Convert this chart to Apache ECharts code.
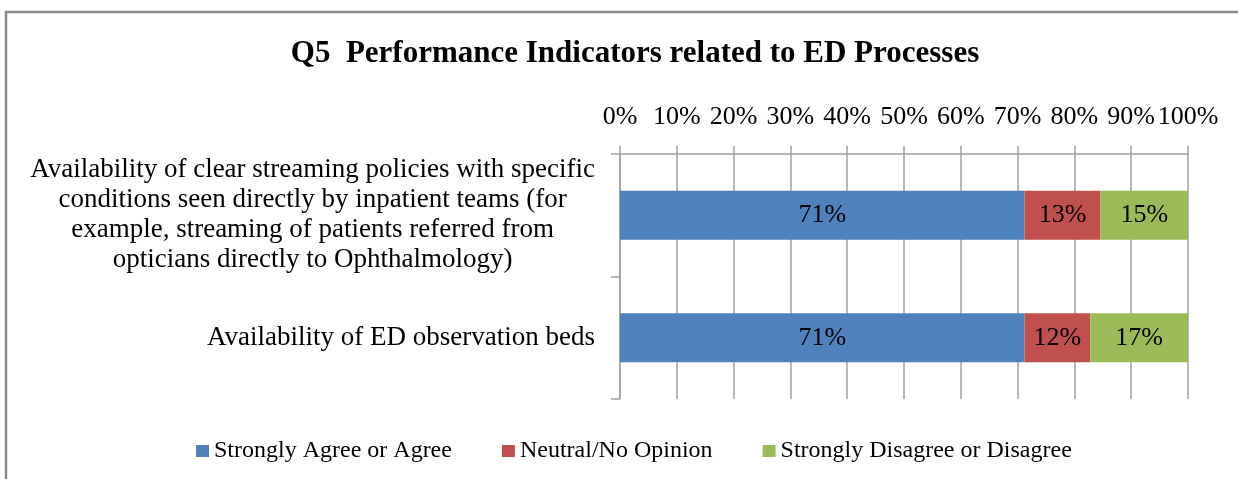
<!DOCTYPE html>
<html>
<head>
<meta charset="utf-8">
<script src="https://cdn.jsdelivr.net/npm/echarts@6/dist/echarts.min.js"></script>
<style>
    html, body { margin: 0; padding: 0; background: #fff; }
    #chart { width: 1238px; height: 479px; }
</style>
</head>
<body>
<div id="chart"></div>
<script>
    var categories = [
        'Availability of clear streaming policies with specific\nconditions seen directly by inpatient teams (for\nexample, streaming of patients referred from\nopticians directly to Ophthalmology)',
        'Availability of ED observation beds'
    ];
    var seriesNames = ['Strongly Agree or Agree', 'Neutral/No Opinion', 'Strongly Disagree or Disagree'];
    var agree = [71.2, 71.2];
    var neutral = [13.4, 11.6];
    var disagree = [15.4, 17.2];
    var colors = ['#4F81BD', '#C0504D', '#9BBB59'];

    var font = "'Liberation Serif', 'Times New Roman', serif";
    var chart = echarts.init(document.getElementById('chart'));

    function barSeries(name, data, color) {
        return {
            name: name,
            type: 'bar',
            stack: 'total',
            barWidth: 49,
            data: data,
            itemStyle: { color: color },
            label: {
                show: true,
                position: 'inside',
                color: '#000',
                fontFamily: font,
                fontSize: 26,
                formatter: function (p) { return Math.round(p.value) + '%'; }
            }
        };
    }

    var option = {
        animation: false,
        title: {
            text: 'Q5  Performance Indicators related to ED Processes',
            left: 630,
            top: 33,
            textAlign: 'center',
            textStyle: { fontFamily: font, fontSize: 31, fontWeight: 'bold', color: '#000' }
        },
        legend: {
            left: 191,
            top: 434,
            itemWidth: 13,
            itemHeight: 12,
            itemGap: 50,
            icon: 'rect',
            textStyle: { fontFamily: font, fontSize: 24, color: '#000' },
            data: seriesNames
        },
        graphic: [{
            type: 'rect',
            shape: { x: 6, y: 12, width: 1300, height: 520 },
            style: { fill: 'none', stroke: '#8a8a8a', lineWidth: 2.5 },
            silent: true
        }],
        grid: { left: 620, right: 50, top: 154, bottom: 80 },
        xAxis: {
            type: 'value',
            position: 'top',
            min: 0,
            max: 100,
            interval: 10,
            axisLine: { show: true, lineStyle: { color: '#a0a0a0', width: 1.5 } },
            axisTick: { show: true, length: 8, lineStyle: { color: '#a0a0a0', width: 1.5 } },
            splitLine: { show: true, lineStyle: { color: '#a0a0a0', width: 1.5 } },
            axisLabel: {
                margin: 24,
                color: '#000',
                fontFamily: font,
                fontSize: 26,
                formatter: '{value}%'
            }
        },
        yAxis: {
            type: 'category',
            inverse: true,
            data: categories,
            axisLine: { show: true, lineStyle: { color: '#a0a0a0', width: 1.5 } },
            axisTick: { show: true, length: 9, lineStyle: { color: '#a0a0a0', width: 1.5 } },
            axisLabel: {
                margin: 25,
                color: '#000',
                fontFamily: font,
                fontSize: 27,
                lineHeight: 30,
                formatter: function (v) { return '{c|' + v + '}'; },
                rich: {
                    c: { align: 'center', fontFamily: font, fontSize: 27, lineHeight: 30, color: '#000' }
                }
            }
        },
        series: [
            barSeries(seriesNames[0], agree, colors[0]),
            barSeries(seriesNames[1], neutral, colors[1]),
            barSeries(seriesNames[2], disagree, colors[2])
        ]
    };

    chart.setOption(option);
</script>
</body>
</html>
